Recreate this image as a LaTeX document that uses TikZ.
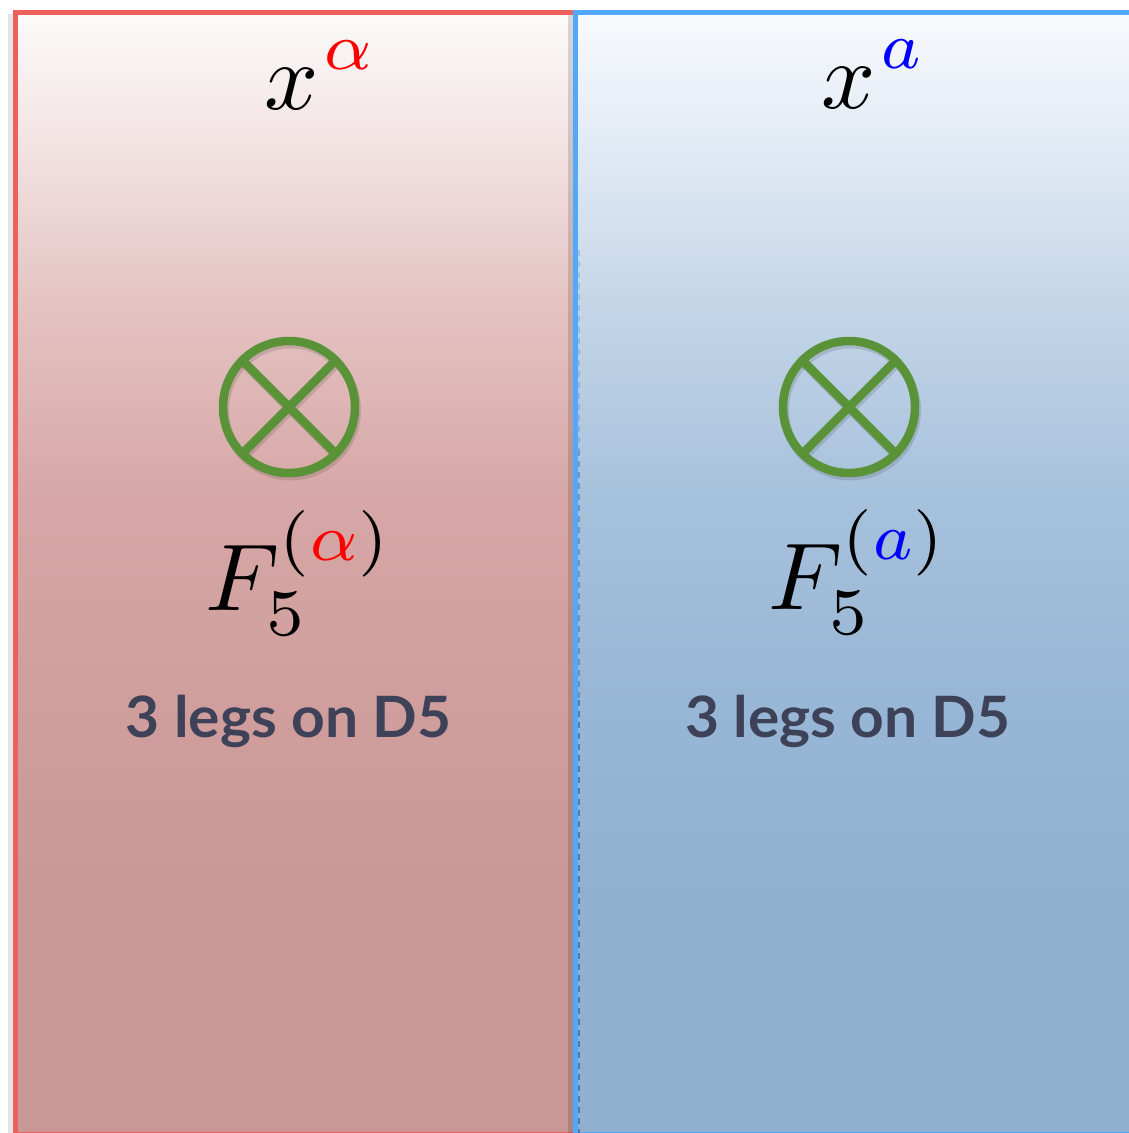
\documentclass[tikz,border=0pt]{standalone}
\usepackage{graphicx}
\usepackage{fontspec}
\newfontfamily\legfont{Lato}[FakeStretch=1.03]
\definecolor{lbot}{RGB}{201,151,150}
\definecolor{lseven}{RGB}{207,158,157}
\definecolor{lfive}{RGB}{214,167,166}
\definecolor{lthree}{RGB}{228,196,195}
\definecolor{lone}{RGB}{242,226,226}
\definecolor{ltop}{RGB}{252,250,250}
\definecolor{rbot}{RGB}{145,176,207}
\definecolor{rseven}{RGB}{152,182,213}
\definecolor{rfive}{RGB}{166,193,220}
\definecolor{rthree}{RGB}{197,214,232}
\definecolor{rone}{RGB}{225,234,244}
\definecolor{rtop}{RGB}{248,250,253}
\definecolor{redborder}{RGB}{238,96,92}
\definecolor{blueborder}{RGB}{82,168,250}
\definecolor{ringgreen}{RGB}{90,147,55}
\definecolor{legtext}{RGB}{62,66,88}
\definecolor{dashblue}{RGB}{45,85,130}
\pgfdeclareverticalshading{redpanel}{100bp}{color(0bp)=(lbot); color(35.4bp)=(lbot); color(44.3bp)=(lseven); color(53.3bp)=(lfive); color(62.2bp)=(lthree); color(68.9bp)=(lone); color(75bp)=(ltop); color(100bp)=(ltop)}
\pgfdeclareverticalshading{bluepanel}{100bp}{color(0bp)=(rbot); color(35.4bp)=(rbot); color(44.3bp)=(rseven); color(53.3bp)=(rfive); color(62.2bp)=(rthree); color(68.9bp)=(rone); color(75bp)=(rtop); color(100bp)=(rtop)}
\newcommand{\bigmath}[1]{\scalebox{9.5}{$\displaystyle #1$}}
\tikzset{
  ring/.style={circle, draw=ringgreen, line width=8.5pt, minimum size=132pt, inner sep=0pt, outer sep=0pt},
  ringshadow/.style={black, opacity=0.12, line width=9pt},
  mathlabel/.style={inner sep=0pt, anchor=base},
  leglabel/.style={inner sep=0pt, anchor=base, text=legtext, font=\legfont\bfseries\fontsize{57}{60}\selectfont},
  seam/.style={dashblue, line width=1.2pt, dash pattern=on 6pt off 5pt},
}
\begin{document}
\begin{tikzpicture}[x=1pt, y=-1pt]
\clip (0,0) rectangle (1129,1133);
\fill[white] (0,0) rectangle (1129,1133);
% left panel
\fill[black, opacity=0.10] (8,14) rectangle (14,1140);
\shade[shading=redpanel] (15.5,12.5) rectangle (575.5,1134);
\draw[redborder, line width=5pt] (15.5,12.5) rectangle (575.5,1134);
% right panel
\fill[black, opacity=0.14] (568,15) rectangle (574,1140);
\shade[shading=bluepanel] (575.5,12.5) rectangle (1140,1134);
\draw[blueborder, line width=5pt] (575.5,12.5) rectangle (1140,1134);
% dashed seam, growing darker downwards
\coordinate (s0) at (579,250);
\coordinate (s1) at (579,450);
\coordinate (s2) at (579,700);
\coordinate (s3) at (579,1133);
\draw[seam, opacity=0.2] (s0) -- (s1);
\draw[seam, opacity=0.4] (s1) -- (s2);
\draw[seam, opacity=0.6] (s2) -- (s3);
% rings
\foreach \n/\cx in {l/289, r/849} {
  \begin{scope}[shift={(1.5,3)}]
    \draw[ringshadow] (\cx,407) circle (66);
    \draw[ringshadow] (\cx-46.7,407-46.7) -- (\cx+46.7,407+46.7);
    \draw[ringshadow] (\cx-46.7,407+46.7) -- (\cx+46.7,407-46.7);
  \end{scope}
  \node[ring] (ring\n) at (\cx,407) {};
  \draw[ringgreen, line width=8.5pt] (ring\n.north west) -- (ring\n.south east);
  \draw[ringgreen, line width=8.5pt] (ring\n.south west) -- (ring\n.north east);
}
% labels
\node[mathlabel] (xl) at (321,109) {\bigmath{x^{\mkern1mu\textcolor{red}{\alpha}}}};
\node[mathlabel] (xr) at (874,108) {\bigmath{x^{\mkern1mu\textcolor{blue}{a}}}};
\node[mathlabel] (fl) at (299,610) {\bigmath{F_5^{(\textcolor{red}{\alpha})}}};
\node[mathlabel] (fr) at (858,609) {\bigmath{F_5^{(\textcolor{blue}{a})}}};
\node[leglabel] (tl) at (288.5,737) {3 legs on D5};
\node[leglabel] (tr) at (848,737) {3 legs on D5};
\end{tikzpicture}
\end{document}
